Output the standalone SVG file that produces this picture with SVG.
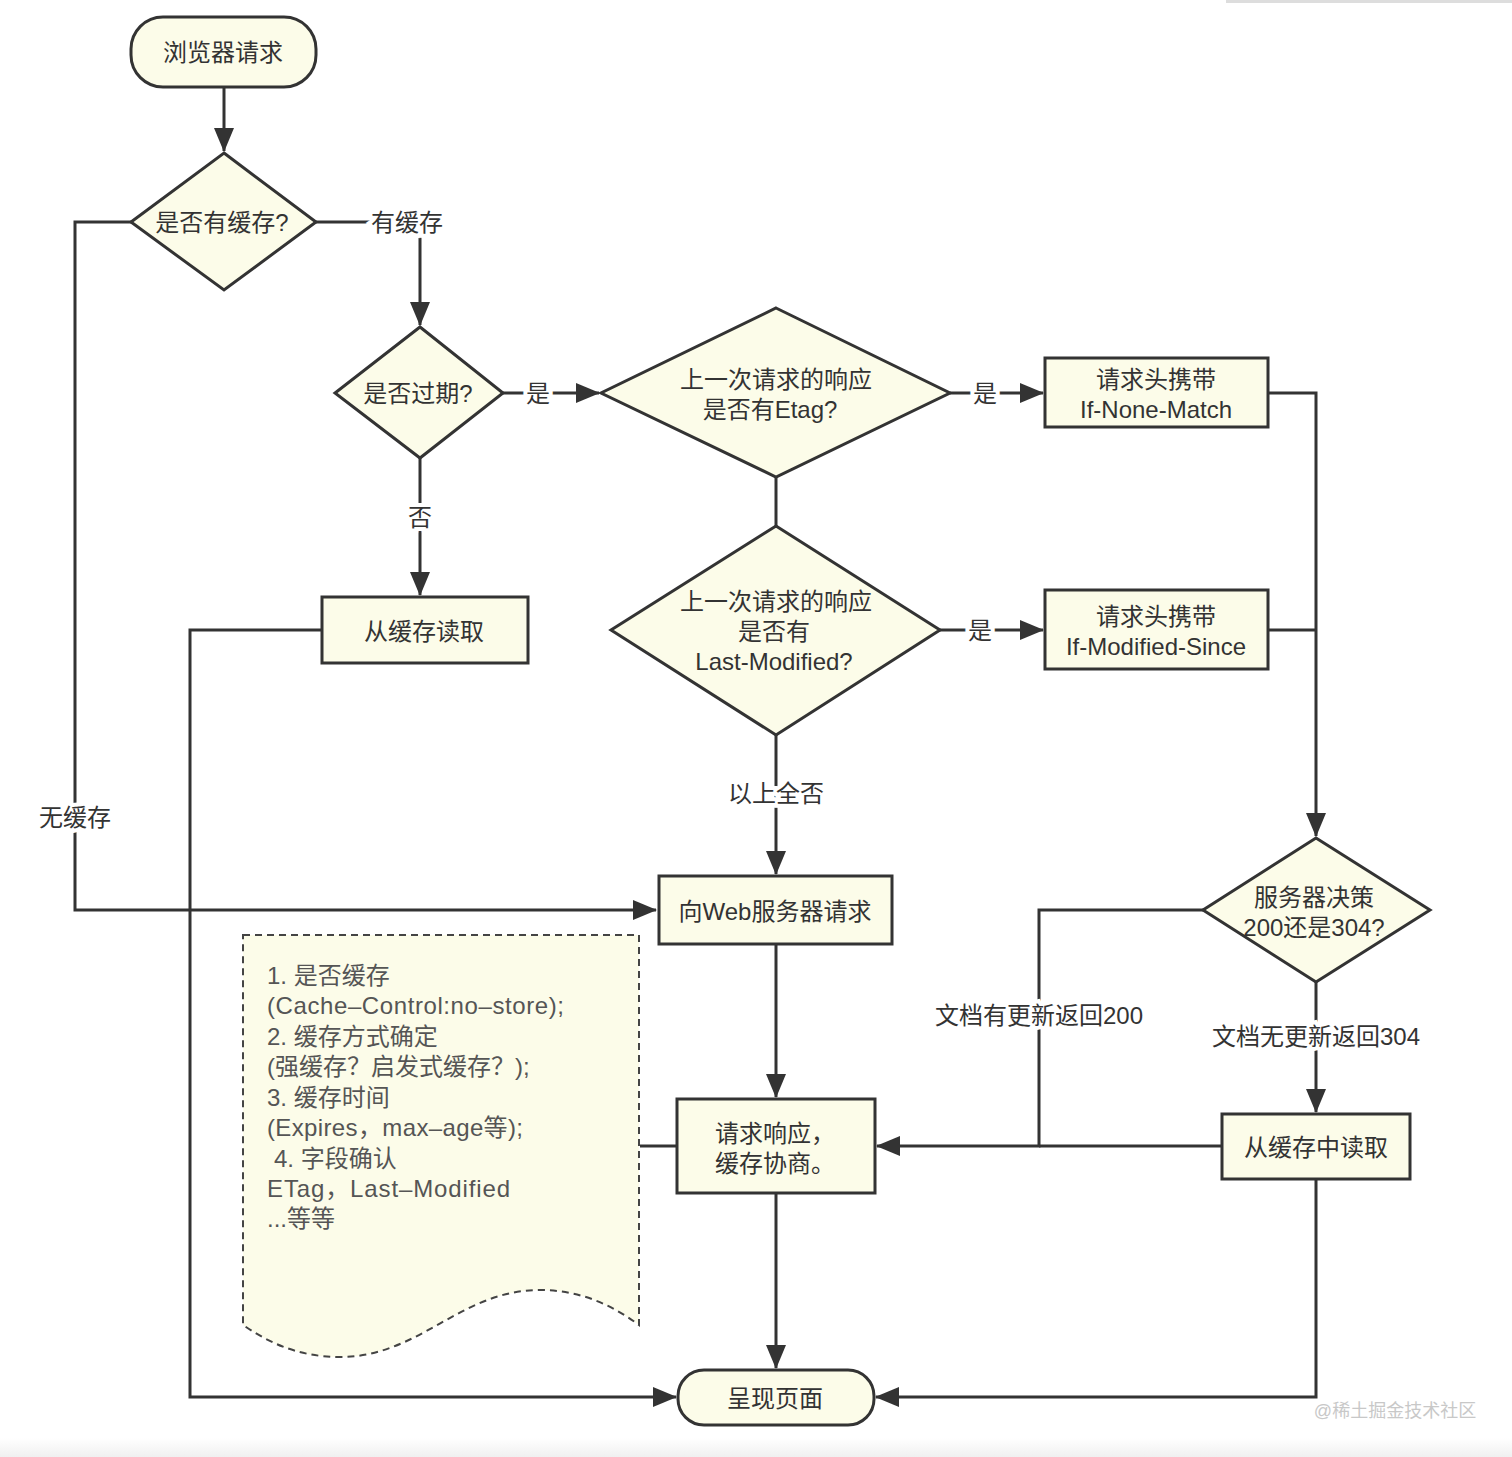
<svg xmlns="http://www.w3.org/2000/svg" width="1512" height="1457" viewBox="0 0 1512 1457">
<defs>
<marker id="arr" markerUnits="userSpaceOnUse" markerWidth="24" markerHeight="20" viewBox="0 0 24 20" refX="23" refY="10" orient="auto">
<path d="M0,0 L24,10 L0,20 z" fill="#333"/>
</marker>
<linearGradient id="bot" x1="0" y1="0" x2="0" y2="1"><stop offset="0" stop-color="#fff"/><stop offset="1" stop-color="#f0f0f0"/></linearGradient>
</defs>
<style>
.n{fill:#fcfce9;stroke:#333;stroke-width:3}
.t{font-family:"Liberation Sans","Noto Sans CJK SC",sans-serif;font-size:24px;fill:#333;text-anchor:middle;dominant-baseline:central}
.c{fill:none;stroke:#333;stroke-width:3}
.lbl{font-family:"Liberation Sans","Noto Sans CJK SC",sans-serif;font-size:24px;fill:#333;text-anchor:middle;dominant-baseline:central;stroke:#fff;stroke-width:8;paint-order:stroke}
.doc{font-family:"Liberation Sans","Noto Sans CJK SC",sans-serif;font-size:24px;fill:#555;dominant-baseline:central}
</style>
<rect width="1512" height="1457" fill="#fff"/>
<rect x="0" y="1438" width="1512" height="19" fill="url(#bot)"/>
<rect x="1226" y="0" width="286" height="3" fill="#ddd"/>

<g id="connectors">
<path class="c" d="M224,87 V151" marker-end="url(#arr)"/>
<path class="c" d="M131,222 H75 V910 H656" marker-end="url(#arr)"/>
<path class="c" d="M316,222 H420 V325" marker-end="url(#arr)"/>
<path class="c" d="M503,393 H599" marker-end="url(#arr)"/>
<path class="c" d="M420,458 V595" marker-end="url(#arr)"/>
<path class="c" d="M322,630 H190 V1397 H676" marker-end="url(#arr)"/>
<path class="c" d="M950,393 H1043" marker-end="url(#arr)"/>
<path class="c" d="M1268,393 H1316 V836" marker-end="url(#arr)"/>
<path class="c" d="M776,477 V526"/>
<path class="c" d="M940,630 H1043" marker-end="url(#arr)"/>
<path class="c" d="M1268,630 H1316"/>
<path class="c" d="M776,735 V874" marker-end="url(#arr)"/>
<path class="c" d="M776,944 V1097" marker-end="url(#arr)"/>
<path class="c" d="M776,1193 V1368" marker-end="url(#arr)"/>
<path class="c" d="M1203,910 H1039 V1146 H877" marker-end="url(#arr)"/>
<path class="c" d="M1222,1146 H1039"/>
<path class="c" d="M1316,982 V1112" marker-end="url(#arr)"/>
<path class="c" d="M1316,1179 V1397 H876" marker-end="url(#arr)"/>
<path class="c" d="M640,1146 H677"/>
<text class="lbl" x="75" y="817">无缓存</text>
<text class="lbl" x="407" y="222">有缓存</text>
<text class="lbl" x="538" y="393">是</text>
<text class="lbl" x="420" y="517">否</text>
<text class="lbl" x="985" y="393">是</text>
<text class="lbl" x="980" y="630">是</text>
<text class="lbl" x="776" y="793">以上全否</text>
<text class="lbl" x="1039" y="1015">文档有更新返回200</text>
<text class="lbl" x="1316" y="1036">文档无更新返回304</text>
</g>

<g id="start">
<rect class="n" x="131" y="17" width="185" height="70" rx="32"/>
<text class="t" x="223" y="52">浏览器请求</text>
</g>
<g id="has-cache">
<path class="n" d="M224,153 L316,222 L224,290 L131,222 z"/>
<text class="t" x="222" y="222">是否有缓存?</text>
</g>
<g id="expired">
<path class="n" d="M420,327 L503,393 L420,458 L335,393 z"/>
<text class="t" x="418" y="393">是否过期?</text>
</g>
<g id="read-cache">
<rect class="n" x="322" y="597" width="206" height="66"/>
<text class="t" x="424" y="631">从缓存读取</text>
</g>
<g id="etag">
<path class="n" d="M776,308 L950,393 L776,477 L601,393 z"/>
<text class="t" x="776" y="379">上一次请求的响应</text>
<text class="t" x="770" y="409">是否有Etag?</text>
</g>
<g id="if-none-match">
<rect class="n" x="1045" y="358" width="223" height="69"/>
<text class="t" x="1156" y="379">请求头携带</text>
<text class="t" x="1156" y="409">If-None-Match</text>
</g>
<g id="last-modified">
<path class="n" d="M776,526 L940,630 L776,735 L611,630 z"/>
<text class="t" x="776" y="601">上一次请求的响应</text>
<text class="t" x="774" y="631">是否有</text>
<text class="t" x="774" y="661">Last-Modified?</text>
</g>
<g id="if-modified-since">
<rect class="n" x="1045" y="590" width="223" height="79"/>
<text class="t" x="1156" y="616">请求头携带</text>
<text class="t" x="1156" y="646">If-Modified-Since</text>
</g>
<g id="web-request">
<rect class="n" x="659" y="876" width="233" height="68"/>
<text class="t" x="775" y="911">向Web服务器请求</text>
</g>
<g id="negotiate">
<rect class="n" x="677" y="1099" width="198" height="94"/>
<text class="t" x="715" y="1133" style="text-anchor:start">请求响应，</text>
<text class="t" x="715" y="1163" style="text-anchor:start">缓存协商。</text>
</g>
<g id="server-decision">
<path class="n" d="M1316,838 L1430,910 L1316,982 L1203,910 z"/>
<text class="t" x="1314" y="897">服务器决策</text>
<text class="t" x="1314" y="927">200还是304?</text>
</g>
<g id="read-from-cache">
<rect class="n" x="1222" y="1114" width="188" height="65"/>
<text class="t" x="1316" y="1147">从缓存中读取</text>
</g>
<g id="render">
<rect class="n" x="678" y="1370" width="196" height="55" rx="26"/>
<text class="t" x="775" y="1398">呈现页面</text>
</g>
<g id="note">
<path d="M243,935 H639 V1325 C612,1305 580,1290 540,1290 C460,1290 420,1357 340,1357 C295,1357 265,1340 243,1325 Z" fill="#fcfce9" stroke="#444" stroke-width="2" stroke-dasharray="7,5"/>
<text class="doc" x="267" y="975">1. 是否缓存</text>
<text class="doc" x="267" y="1005" textLength="297" lengthAdjust="spacing">(Cache–Control:no–store);</text>
<text class="doc" x="267" y="1036">2. 缓存方式确定</text>
<text class="doc" x="267" y="1066">(强缓存？启发式缓存？);</text>
<text class="doc" x="267" y="1097">3. 缓存时间</text>
<text class="doc" x="267" y="1127" textLength="256" lengthAdjust="spacing">(Expires，max–age等);</text>
<text class="doc" x="274" y="1158">4. 字段确认</text>
<text class="doc" x="267" y="1188" textLength="243" lengthAdjust="spacing">ETag，Last–Modified</text>
<text class="doc" x="267" y="1218">...等等</text>
</g>
<text x="1395" y="1411" style="font-family:'Liberation Sans','Noto Sans CJK SC',sans-serif;font-size:18px;fill:#c8c8c8;text-anchor:middle;dominant-baseline:central">@稀土掘金技术社区</text>
</svg>
